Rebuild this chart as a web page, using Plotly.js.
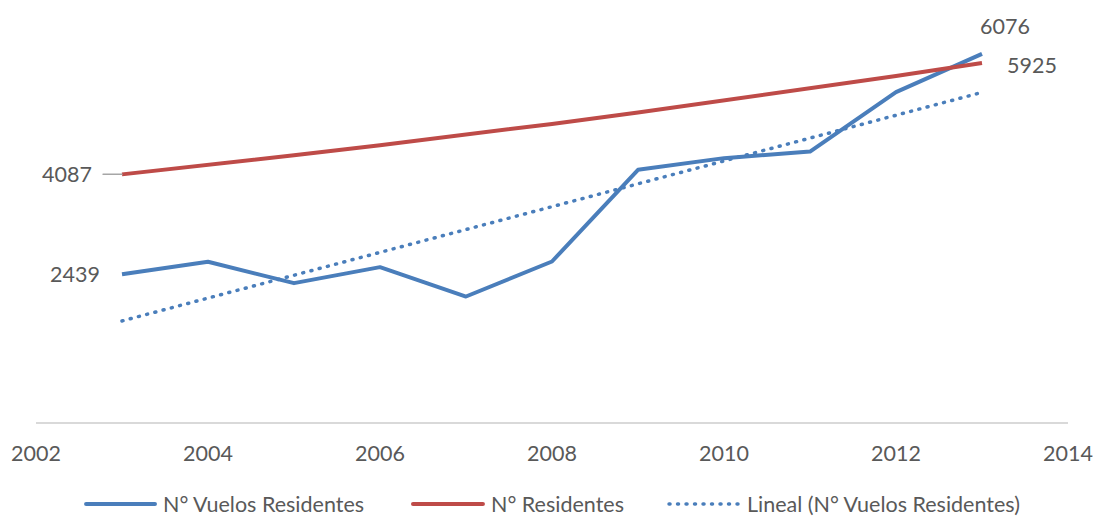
<!DOCTYPE html>
<html>
<head>
<meta charset="utf-8">
<script src="https://cdn.plot.ly/plotly-3.0.1.min.js"></script>
<style>
  html, body { margin: 0; padding: 0; background: #fff; }
  #chart { width: 1094px; height: 518px; }
  .js-line { stroke-linejoin: round; }
  .scatterlayer .trace:nth-child(3) .js-line { stroke-linecap: round; }
  .shapelayer path { stroke-linecap: round; }
</style>
</head>
<body>
<div id="chart"></div>
<script>
// Years on the horizontal axis
const years = [2003, 2004, 2005, 2006, 2007, 2008, 2009, 2010, 2011, 2012, 2013];
// N° Vuelos Residentes
const vuelos = [2439, 2644, 2292, 2556, 2071, 2649, 4162, 4355, 4464, 5444, 6076];
// N° Residentes
const residentes = [4087, 4241, 4402, 4568, 4741, 4920, 5108, 5303, 5503, 5709, 5925];
// Linear trend of N° Vuelos Residentes (end points)
const trendYears = [2003, 2013];
const trendValues = [1668, 5440];
// Axis ticks
const tickYears = [2002, 2004, 2006, 2008, 2010, 2012, 2014];
// Series names
const names = ['N° Vuelos Residentes', 'N° Residentes', 'Lineal (N° Vuelos Residentes)'];

const BLUE = '#4a7ebb';
const RED = '#be4b48';
const TEXT = '#595959';
const FONT = 'Lato, "Open Sans", sans-serif';
const FSIZE = 21.5;

const traces = [
  { x: years, y: vuelos, name: names[0], type: 'scatter', mode: 'lines',
    line: { color: BLUE, width: 4 } },
  { x: years, y: residentes, name: names[1], type: 'scatter', mode: 'lines',
    line: { color: RED, width: 4 } },
  { x: trendYears, y: trendValues, name: names[2], type: 'scatter', mode: 'lines',
    line: { color: BLUE, width: 3.5, dash: '1px,7.5px' } }
];

const last = years.length - 1;
const annFont = { family: FONT, size: FSIZE, color: TEXT };
const annotations = [
  { x: years[0], y: vuelos[0], text: String(vuelos[0]), showarrow: false,
    xanchor: 'right', xshift: -20, font: annFont },
  { x: years[0], y: residentes[0], text: String(residentes[0]), showarrow: false,
    xanchor: 'right', xshift: -28, font: annFont },
  { x: years[last], y: vuelos[last], text: String(vuelos[last]), showarrow: false,
    xanchor: 'center', xshift: 23, yshift: 28, font: annFont },
  { x: years[last], y: residentes[last], text: String(residentes[last]), showarrow: false,
    xanchor: 'left', xshift: 23, yshift: -2, font: annFont }
];

// Legend built from paper-positioned lines and labels
const legY = -0.1943;
const legend = [
  { x0: 0.0485, x1: 0.1153, tx: 0.1221, color: BLUE, dash: 'solid', width: 4, label: names[0] },
  { x0: 0.3653, x1: 0.4331, tx: 0.4399, color: RED, dash: 'solid', width: 4, label: names[1] },
  { x0: 0.6134, x1: 0.6802, tx: 0.6880, color: BLUE, dash: '1px,7.5px', width: 3.5, label: names[2] }
];

const shapes = [
  // leader line to the first N° Residentes value
  { type: 'line', xref: 'x', yref: 'y', x0: years[0] - 0.22, x1: years[0],
    y0: residentes[0], y1: residentes[0], line: { color: '#a6a6a6', width: 1.5 } }
];
legend.forEach(l => {
  shapes.push({ type: 'line', xref: 'paper', yref: 'paper', x0: l.x0, x1: l.x1,
    y0: legY, y1: legY, line: { color: l.color, width: l.width, dash: l.dash } });
  annotations.push({ xref: 'paper', yref: 'paper', x: l.tx, y: legY, text: l.label,
    showarrow: false, xanchor: 'left', yanchor: 'middle', borderpad: 0, font: annFont });
});

const layout = {
  width: 1094, height: 518,
  margin: { l: 36, r: 26, t: 0, b: 96 },
  paper_bgcolor: '#fff', plot_bgcolor: '#fff',
  showlegend: false,
  hovermode: false,
  font: { family: FONT, size: FSIZE, color: TEXT },
  xaxis: {
    range: [2002, 2014], tickvals: tickYears, ticktext: tickYears.map(String),
    showgrid: false, zeroline: false, showline: true,
    linecolor: '#d9d9d9', linewidth: 1.5, ticks: '', ticklabelstandoff: 12,
    tickfont: { family: FONT, size: FSIZE, color: TEXT }
  },
  yaxis: { range: [0, 6965], visible: false, showgrid: false, zeroline: false },
  shapes: shapes,
  annotations: annotations
};

Plotly.newPlot('chart', traces, layout, { staticPlot: true, displayModeBar: false });
</script>
</body>
</html>
